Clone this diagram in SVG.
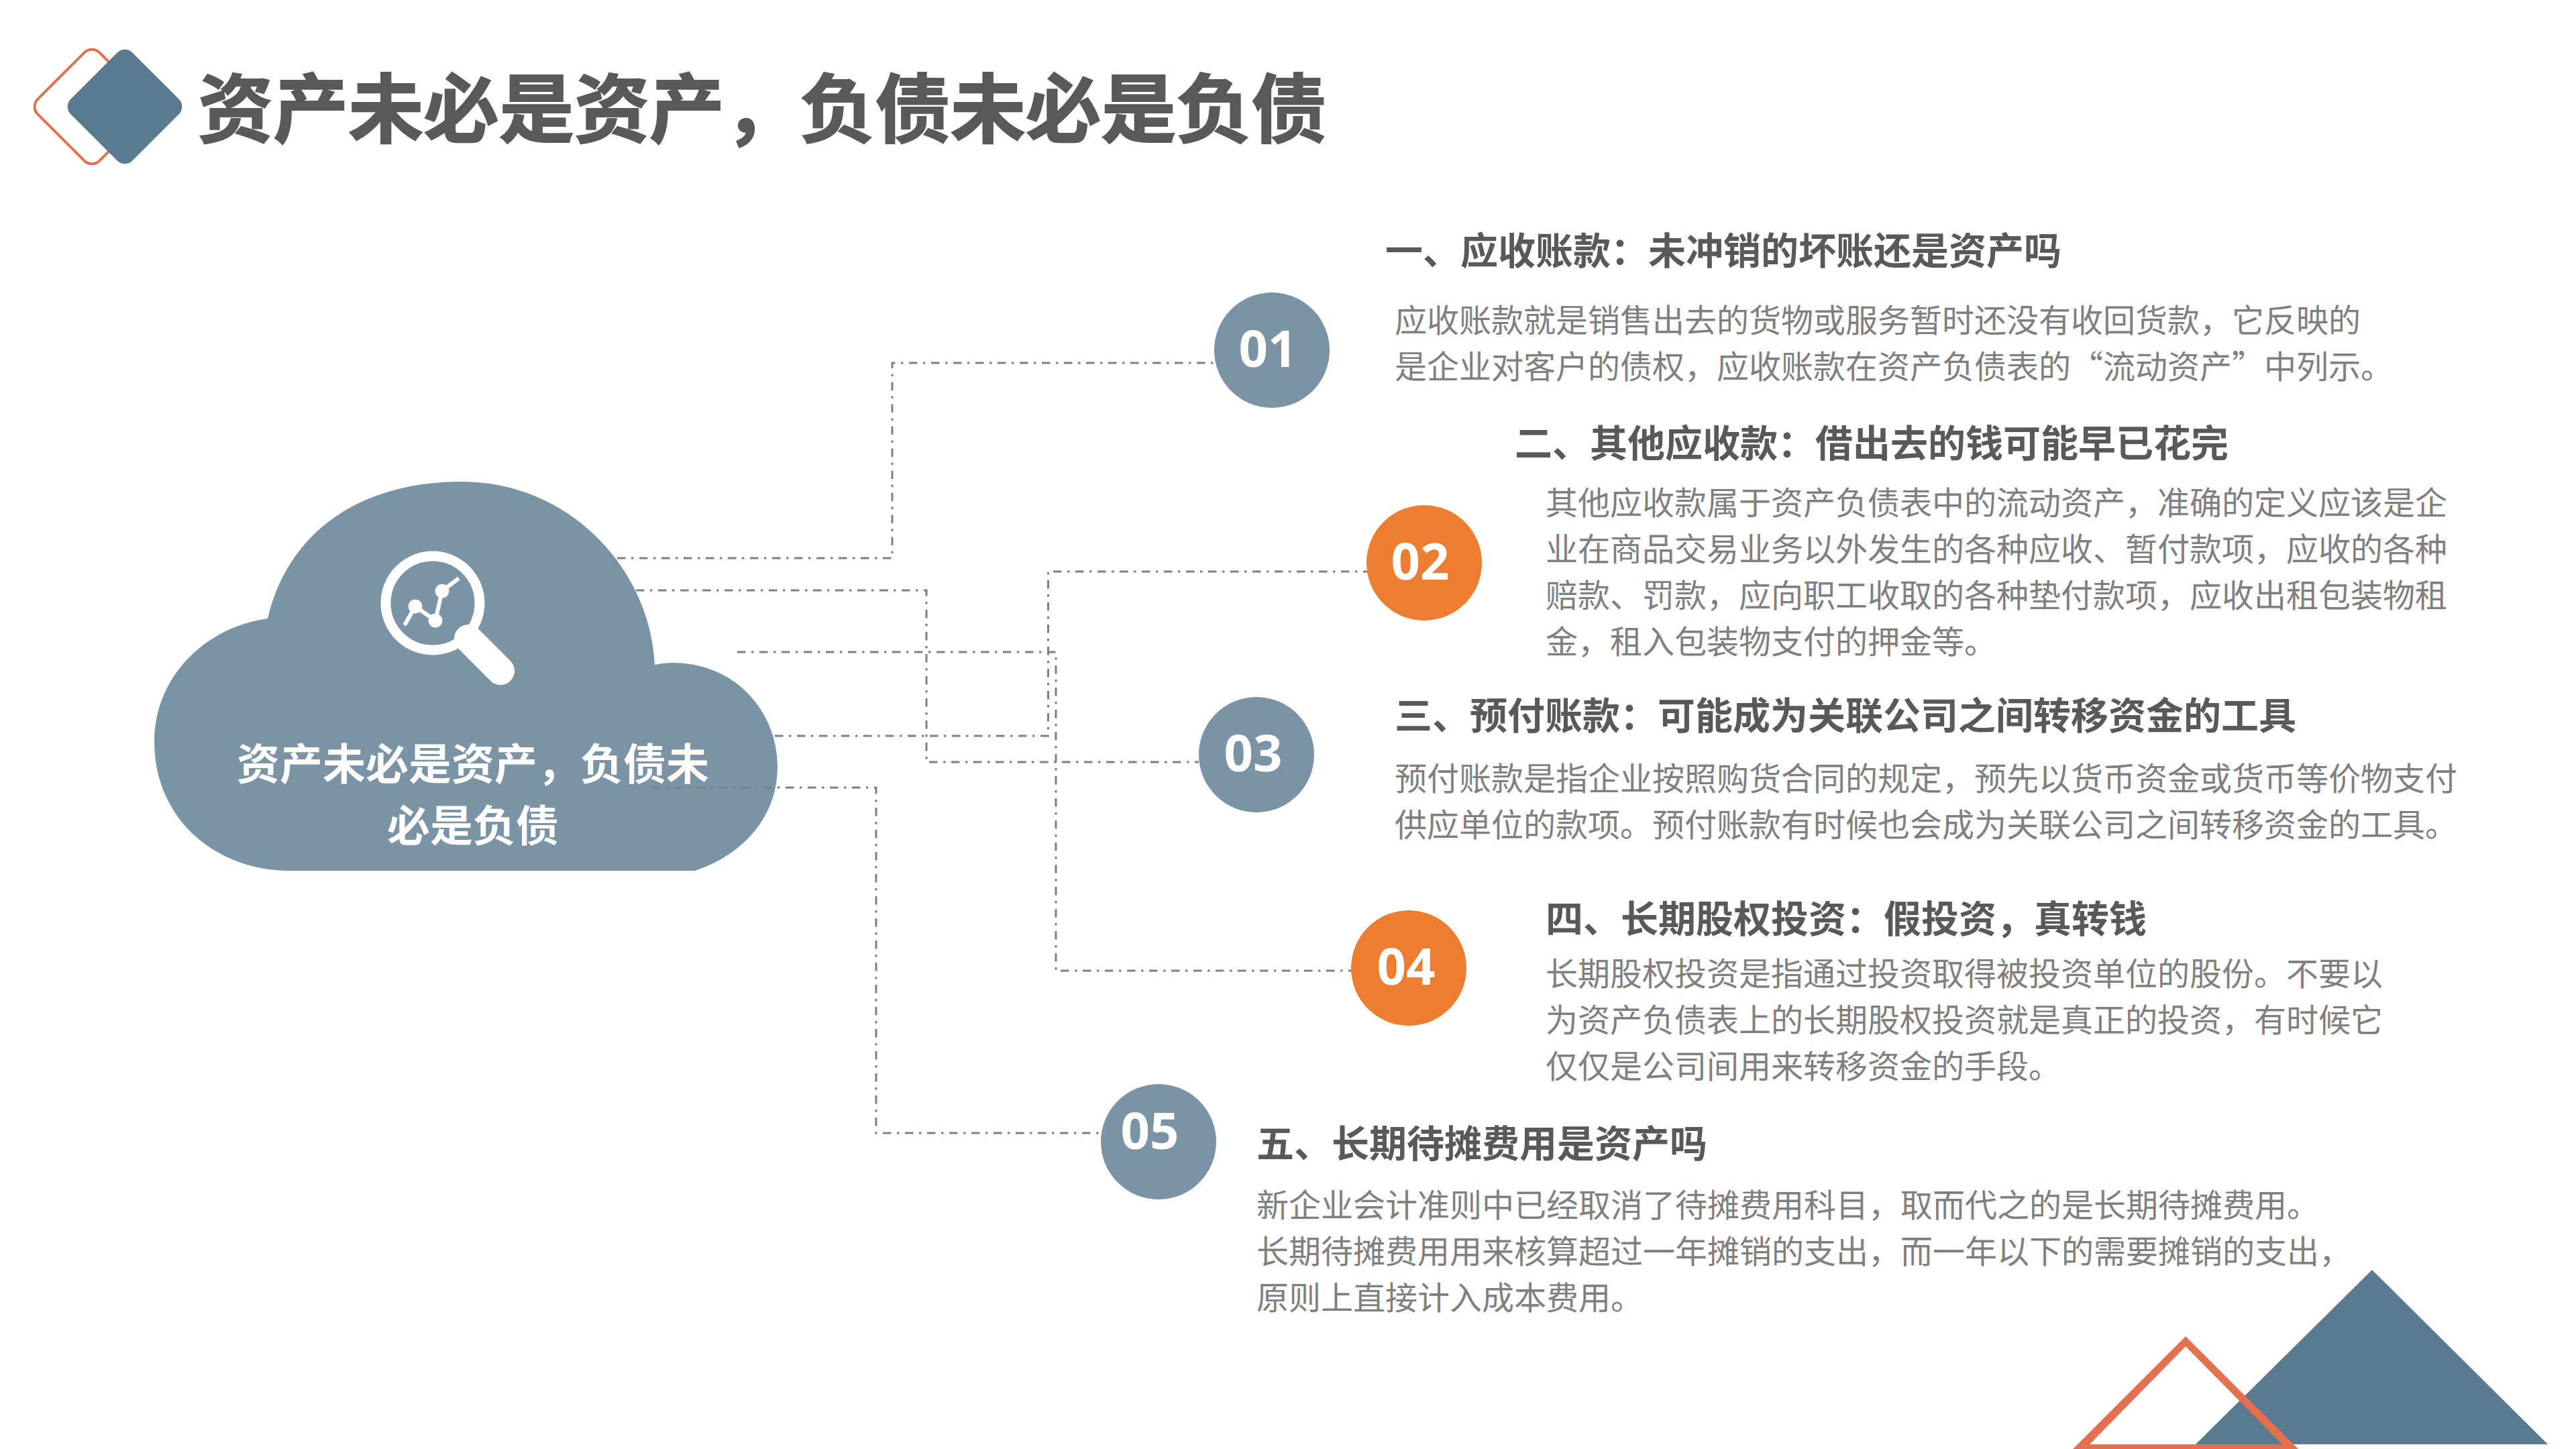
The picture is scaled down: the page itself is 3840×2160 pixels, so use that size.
<svg xmlns="http://www.w3.org/2000/svg" width="3840" height="2160" viewBox="0 0 3840 2160">
<style>
text{font-family:"Noto Sans CJK SC","Noto Sans",sans-serif}
.h{font-size:56px;font-weight:700;fill:#595959}
.b{font-size:48px;fill:#7f7f7f}
.n{font-family:"Open Sans","Noto Sans",sans-serif;font-size:76px;font-weight:700;fill:#fff;text-anchor:middle}
.c{font-size:64px;font-weight:700;fill:#fff;text-anchor:middle}
.l{fill:none;stroke:#7f7f7f;stroke-width:3;stroke-dasharray:12.5 8.5 3.5 8.5}
.blue{fill:#7a94a5}.org{fill:#ed7d31}
</style>
<rect width="3840" height="2160" fill="#fff"/>
<g id="title-mark">
<rect x="72" y="94" width="130" height="130" rx="16" transform="rotate(45 137 159)" fill="#fff" stroke="#e5704f" stroke-width="4"/>
<rect x="121" y="94" width="130" height="130" rx="16" transform="rotate(45 186 159)" fill="#5a7a8f"/>
</g>
<text id="title" x="295" y="204" fill="#595959" stroke="#595959" stroke-width="2" style="font-size:112.2px;font-weight:700">资产未必是资产，负债未必是负债</text>
<g id="decor">
<polygon points="3536,1893 3798,2153 3273,2153" fill="#5a7a8f"/>
<path d="M3258 1992L3090 2160H3426ZM3258 2007L3402 2153H3115Z" fill="#e5704f" fill-rule="evenodd"/>
</g>
<g id="cloud">
<path class="blue" d="M399 922C430 790 540 718 688 718C850 718 970 850 976 991C985 989 995 988 1004 988C1095 988 1159 1060 1159 1143C1159 1220 1105 1275 1036 1298L433 1298C320 1298 230 1220 230 1105C230 1010 305 935 399 922Z"/>
<g id="magnifier" fill="none" stroke="#fff">
<circle cx="645" cy="899" r="70" stroke-width="15"/>
<path d="M698 952L746 1000" stroke-width="42" stroke-linecap="round"/>
<path d="M603 932L619 904L649 925L659 881L684 862" stroke-width="6"/>
<g fill="#fff" stroke="none"><circle cx="619" cy="904" r="10.500"/><circle cx="649" cy="925" r="10.500"/><circle cx="659" cy="881" r="10.500"/></g>
</g>
<text class="c" x="705" y="1162">资产未必是资产，负债未</text>
<text class="c" x="705" y="1254">必是负债</text>
</g>
<g id="connectors">
<path class="l" d="M920 832H1330V541H1810"/>
<path class="l" d="M948 880H1381V1136H1787"/>
<path class="l" d="M1099 972H1574V1447H2015"/>
<path class="l" d="M1155 1097H1562.500V852H2040"/>
<path class="l" d="M973 1174H1306V1689H1640"/>
</g>
<g id="node-01">
<circle class="blue" cx="1896" cy="522" r="86"/>
<text class="n" x="1890" y="547">01</text>
<text class="h" x="2065" y="394">一、应收账款：未冲销的坏账还是资产吗</text>
<text class="b" x="2079" y="495">应收账款就是销售出去的货物或服务暂时还没有收回货款，它反映的</text>
<text class="b" x="2079" y="564">是企业对客户的债权，应收账款在资产负债表的“流动资产”中列示。</text>
</g>
<g id="node-02">
<circle class="org" cx="2123" cy="839" r="86"/>
<text class="n" x="2117" y="864">02</text>
<text class="h" x="2258" y="681">二、其他应收款：借出去的钱可能早已花完</text>
<text class="b" x="2304" y="767">其他应收款属于资产负债表中的流动资产，准确的定义应该是企</text>
<text class="b" x="2304" y="836">业在商品交易业务以外发生的各种应收、暂付款项，应收的各种</text>
<text class="b" x="2304" y="905">赔款、罚款，应向职工收取的各种垫付款项，应收出租包装物租</text>
<text class="b" x="2304" y="974">金，租入包装物支付的押金等。</text>
</g>
<g id="node-03">
<circle class="blue" cx="1873" cy="1125" r="86"/>
<text class="n" x="1868" y="1150">03</text>
<text class="h" x="2079" y="1087">三、预付账款：可能成为关联公司之间转移资金的工具</text>
<text class="b" x="2079" y="1178">预付账款是指企业按照购货合同的规定，预先以货币资金或货币等价物支付</text>
<text class="b" x="2079" y="1247">供应单位的款项。预付账款有时候也会成为关联公司之间转移资金的工具。</text>
</g>
<g id="node-04">
<circle class="org" cx="2100" cy="1443" r="86"/>
<text class="n" x="2096" y="1468">04</text>
<text class="h" x="2304" y="1390">四、长期股权投资：假投资，真转钱</text>
<text class="b" x="2304" y="1469">长期股权投资是指通过投资取得被投资单位的股份。不要以</text>
<text class="b" x="2304" y="1538">为资产负债表上的长期股权投资就是真正的投资，有时候它</text>
<text class="b" x="2304" y="1607">仅仅是公司间用来转移资金的手段。</text>
</g>
<g id="node-05">
<circle class="blue" cx="1727" cy="1702" r="86"/>
<text class="n" x="1714" y="1713">05</text>
<text class="h" x="1873" y="1725">五、长期待摊费用是资产吗</text>
<text class="b" x="1873" y="1814">新企业会计准则中已经取消了待摊费用科目，取而代之的是长期待摊费用。</text>
<text class="b" x="1873" y="1883">长期待摊费用用来核算超过一年摊销的支出，而一年以下的需要摊销的支出，</text>
<text class="b" x="1873" y="1952">原则上直接计入成本费用。</text>
</g>
</svg>
